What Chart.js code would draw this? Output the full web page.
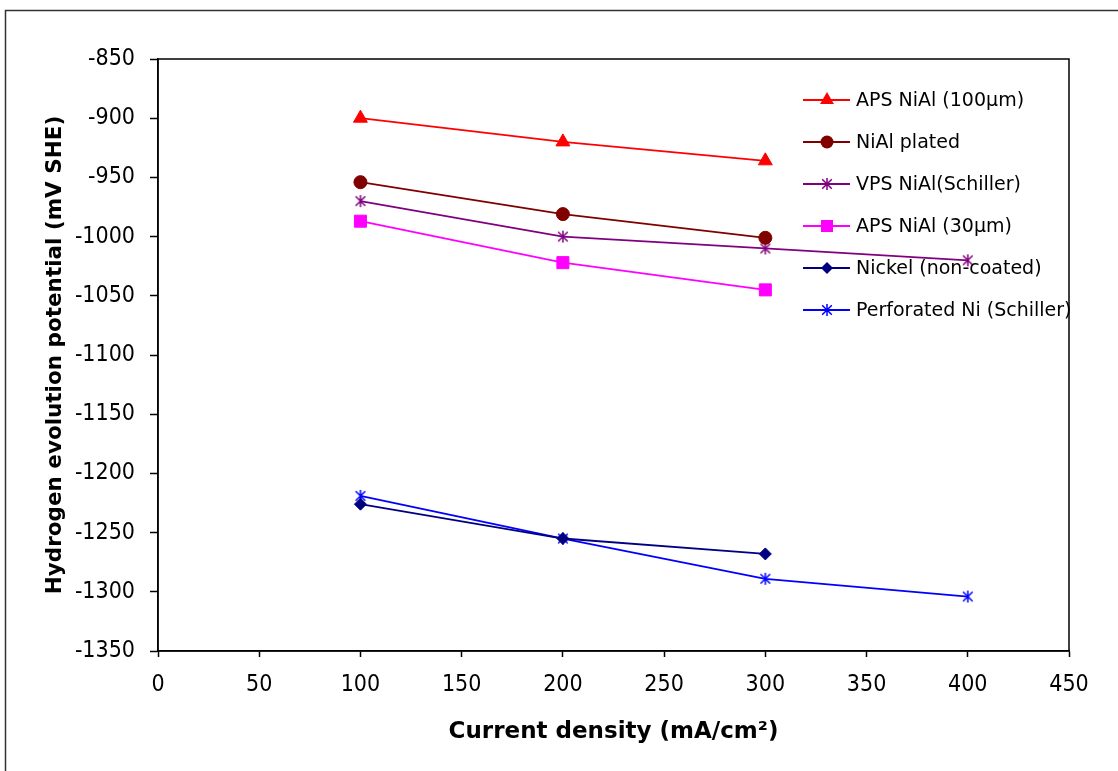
<!DOCTYPE html>
<html>
<head>
<meta charset="utf-8">
<script src="https://cdn.jsdelivr.net/npm/chart.js@4/dist/chart.umd.min.js"></script>
<style>
  html, body { margin: 0; padding: 0; background: #fff; }
  #wrap { width: 1118px; height: 771px; position: relative; }
</style>
</head>
<body>
<div id="wrap"><canvas id="c" width="1118" height="771"></canvas></div>
<script>
// ---- data ----
const xLabelTitle = 'Current density (mA/cm²)';
const yLabelTitle = 'Hydrogen evolution potential (mV SHE)';
const currentDensity3 = [100, 200, 300];
const currentDensity4 = [100, 200, 300, 400];
const seriesNames = ['APS NiAl (100µm)', 'NiAl plated', 'VPS NiAl(Schiller)', 'APS NiAl (30µm)', 'Nickel (non-coated)', 'Perforated Ni (Schiller)'];
const apsNiAl100 = [-900, -920, -936];
const niAlPlated = [-954, -981, -1001];
const vpsNiAlSchiller = [-970, -1000, -1010, -1020];
const apsNiAl30 = [-987, -1022, -1045];
const nickelNonCoated = [-1226, -1255, -1268];
const perforatedNiSchiller = [-1219, -1255, -1289, -1304];
const xTicks = [0, 50, 100, 150, 200, 250, 300, 350, 400, 450];
const yTicks = [-1350, -1300, -1250, -1200, -1150, -1100, -1050, -1000, -950, -900, -850];

const TICK_FONT = '"DejaVu Sans Condensed", "Liberation Sans", sans-serif';
const LEGEND_FONT = '"DejaVu Sans", Verdana, sans-serif';
const TITLE_FONT = '"DejaVu Sans", Verdana, sans-serif';

function asterisk(color, size) {
  const cv = document.createElement('canvas');
  cv.width = size; cv.height = size;
  const g = cv.getContext('2d');
  g.strokeStyle = color; g.lineWidth = 1.5;
  const m = size / 2, r = size / 2 - 1;
  g.beginPath();
  g.moveTo(m, m - r); g.lineTo(m, m + r);
  g.moveTo(m - r * 0.8, m - r * 0.8); g.lineTo(m + r * 0.8, m + r * 0.8);
  g.moveTo(m + r * 0.8, m - r * 0.8); g.lineTo(m - r * 0.8, m + r * 0.8);
  g.stroke();
  return cv;
}

function pts(xs, ys) { return ys.map((y, i) => ({x: xs[i], y: y})); }

const styles = [
  {color: '#FF0000', point: 'triangle', radius: 8},
  {color: '#800000', point: 'circle', radius: 6.5},
  {color: '#800080', point: asterisk('#800080', 14), radius: 6},
  {color: '#FF00FF', point: 'rect', radius: 8.5},
  {color: '#000080', point: 'rectRot', radius: 6},
  {color: '#0000FF', point: asterisk('#0000FF', 14), radius: 6}
];
const seriesData = [
  pts(currentDensity3, apsNiAl100),
  pts(currentDensity3, niAlPlated),
  pts(currentDensity4, vpsNiAlSchiller),
  pts(currentDensity3, apsNiAl30),
  pts(currentDensity3, nickelNonCoated),
  pts(currentDensity4, perforatedNiSchiller)
];

const datasets = seriesNames.map((name, i) => ({
  label: name,
  data: seriesData[i],
  borderColor: styles[i].color,
  backgroundColor: styles[i].color,
  pointBackgroundColor: styles[i].color,
  pointBorderColor: styles[i].color,
  pointStyle: styles[i].point,
  pointRadius: styles[i].radius,
  pointHoverRadius: styles[i].radius,
  pointBorderWidth: 1,
  borderWidth: 1.8,
  showLine: true,
  tension: 0
}));

const framePlugin = {
  id: 'frame',
  beforeDraw(chart) {
    const ctx = chart.ctx;
    ctx.save();
    ctx.fillStyle = '#fff';
    ctx.fillRect(0, 0, chart.width, chart.height);
    ctx.strokeStyle = '#333';
    ctx.lineWidth = 1.5;
    ctx.strokeRect(5.5, 10.5, 1300, 1000);
    ctx.restore();
  },
  beforeDatasetsDraw(chart) {
    const a = chart.chartArea, ctx = chart.ctx;
    ctx.save();
    ctx.strokeStyle = '#000';
    ctx.lineWidth = 1.5;
    ctx.strokeRect(a.left, a.top, a.right - a.left, a.bottom - a.top);
    ctx.restore();
  }
};

function drawMarker(ctx, style, x, y, r, color) {
  ctx.save();
  ctx.fillStyle = color; ctx.strokeStyle = color;
  if (typeof style !== 'string') {
    ctx.drawImage(style, x - style.width / 2, y - style.height / 2);
  } else {
    ctx.beginPath();
    if (style === 'circle') {
      ctx.arc(x, y, r, 0, Math.PI * 2);
    } else if (style === 'triangle') {
      ctx.moveTo(x, y - r);
      ctx.lineTo(x + r * Math.sin(Math.PI / 3), y + r * 0.5);
      ctx.lineTo(x - r * Math.sin(Math.PI / 3), y + r * 0.5);
      ctx.closePath();
    } else if (style === 'rect') {
      const s = Math.SQRT1_2 * r;
      ctx.rect(x - s, y - s, 2 * s, 2 * s);
    } else if (style === 'rectRot') {
      ctx.moveTo(x - r, y); ctx.lineTo(x, y - r); ctx.lineTo(x + r, y); ctx.lineTo(x, y + r);
      ctx.closePath();
    }
    ctx.fill();
  }
  ctx.restore();
}

const legendPlugin = {
  id: 'insideLegend',
  afterDatasetsDraw(chart) {
    const ctx = chart.ctx;
    const x0 = 803, x1 = 850, xm = 827, tx = 856, y0 = 100, dy = 42;
    ctx.save();
    ctx.font = '19px ' + LEGEND_FONT;
    ctx.textBaseline = 'middle';
    ctx.textAlign = 'left';
    chart.data.datasets.forEach((ds, i) => {
      const y = y0 + i * dy;
      ctx.strokeStyle = ds.borderColor;
      ctx.lineWidth = 1.8;
      ctx.beginPath(); ctx.moveTo(x0, y); ctx.lineTo(x1, y); ctx.stroke();
      drawMarker(ctx, ds.pointStyle, xm, y, ds.pointRadius, ds.borderColor);
      ctx.fillStyle = '#000';
      ctx.fillText(ds.label, tx, y + 1);
    });
    ctx.restore();
  }
};

new Chart(document.getElementById('c'), {
  type: 'scatter',
  data: { datasets: datasets },
  plugins: [framePlugin, legendPlugin],
  options: {
    responsive: false,
    animation: false,
    events: [],
    layout: { padding: { left: 0, top: 59, right: 49, bottom: 0 } },
    plugins: { legend: { display: false }, tooltip: { enabled: false } },
    scales: {
      x: {
        type: 'linear',
        min: 0, max: 450,
        afterBuildTicks: s => { s.ticks = xTicks.map(v => ({value: v})); },
        afterFit: s => { s.height = 120; },
        grid: { drawOnChartArea: false, tickLength: 6, color: '#000', tickWidth: 1.5 },
        border: { color: '#000', width: 1.5 },
        ticks: { color: '#000', font: { family: TICK_FONT, size: 23 }, padding: 14, maxRotation: 0, callback: v => String(v) },
        title: { display: true, text: xLabelTitle, color: '#000', font: { family: TITLE_FONT, size: 23, weight: 'bold' }, padding: { top: 0, bottom: 25 } }
      },
      y: {
        type: 'linear',
        min: -1350, max: -850,
        afterBuildTicks: s => { s.ticks = yTicks.map(v => ({value: v})); },
        afterFit: s => { s.width = 158; },
        grid: { drawOnChartArea: false, tickLength: 8, color: '#000', tickWidth: 1.5 },
        border: { color: '#000', width: 1.5 },
        ticks: { color: '#000', font: { family: TICK_FONT, size: 23 }, padding: 15, callback: v => String(v) },
        title: { display: true, text: yLabelTitle, color: '#000', font: { family: TITLE_FONT, size: 21.5, weight: 'bold' }, padding: { top: 43, bottom: 0 } }
      }
    }
  }
});
</script>
</body>
</html>
